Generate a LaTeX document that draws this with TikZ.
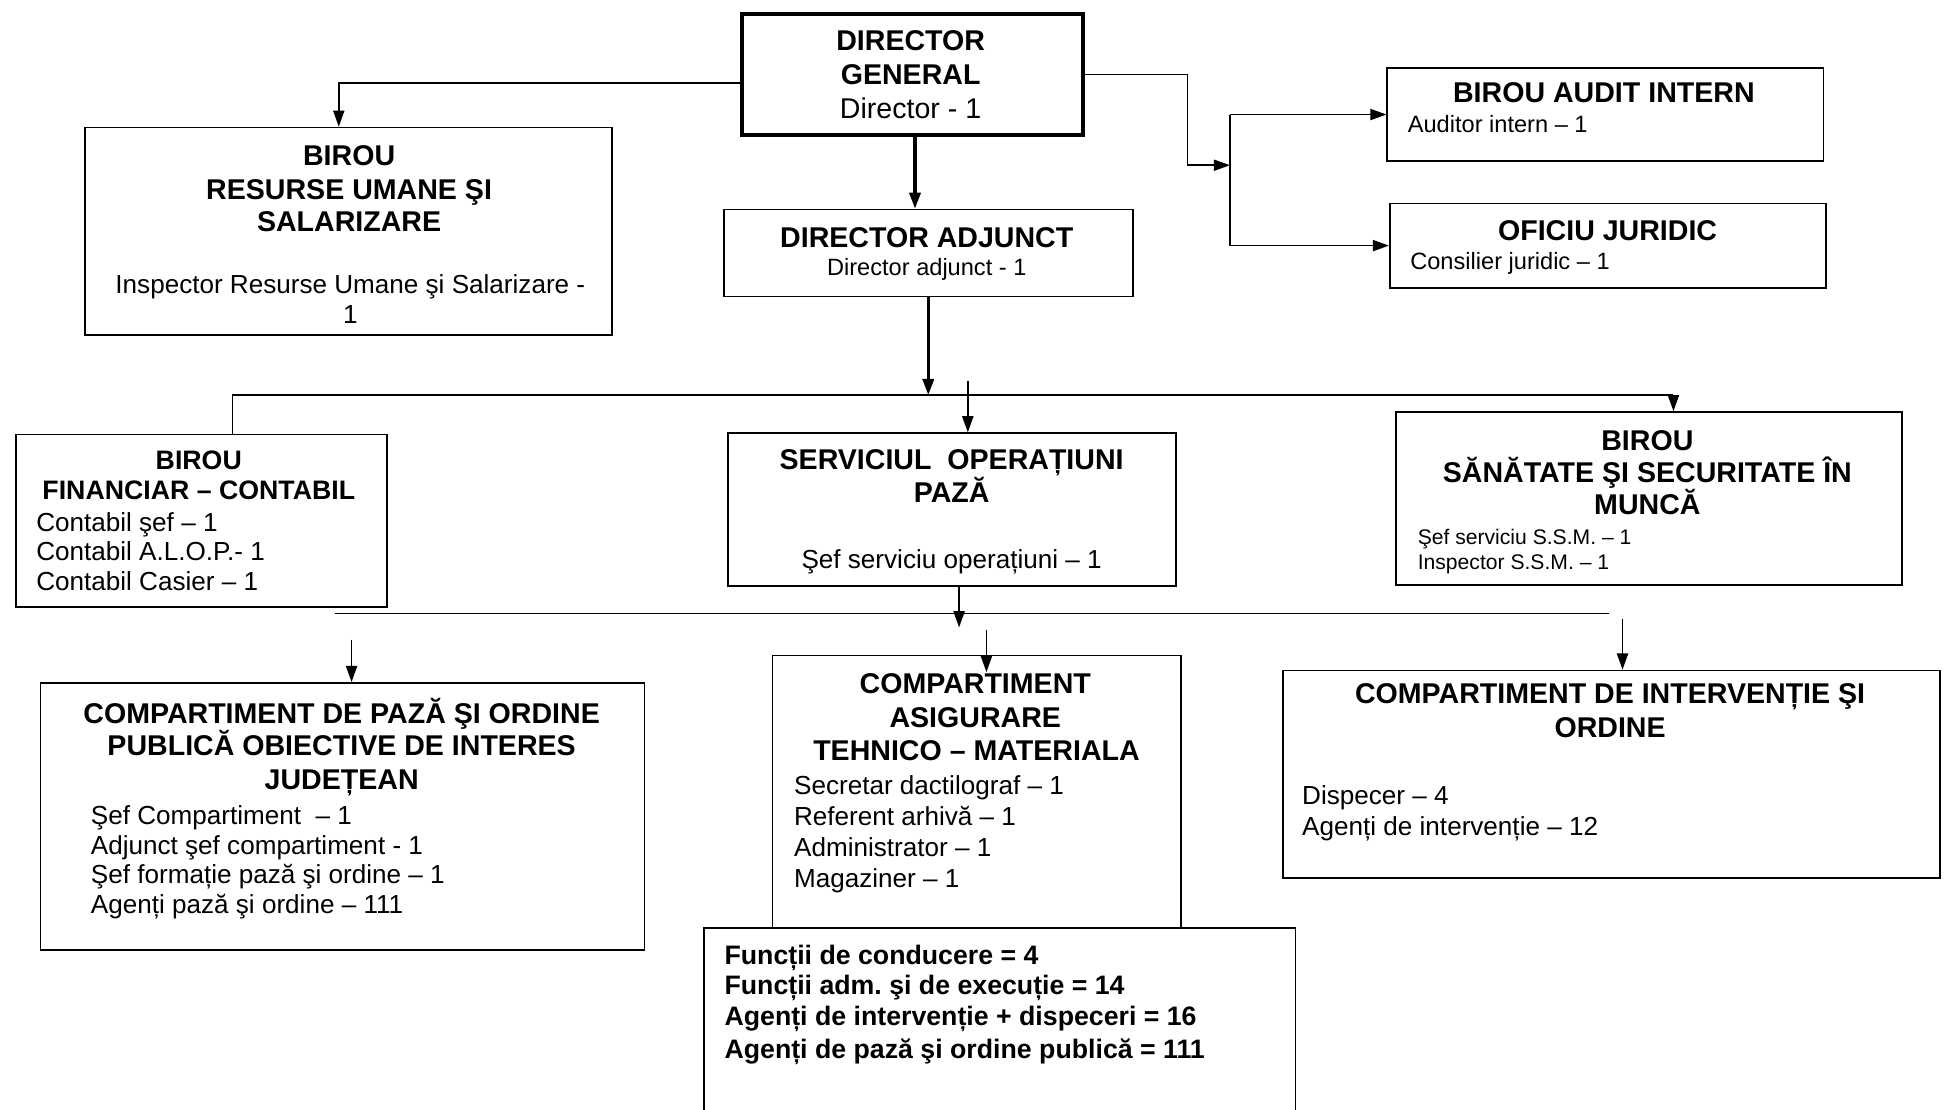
\documentclass[tikz,border=0pt]{standalone}
\usepackage{fontspec}
\setmainfont{Liberation Sans}
\usetikzlibrary{arrows.meta}
\tikzset{
box/.style={ % every department box
draw,
line width=1.4pt,
inner sep=0pt,
anchor=north west},
bossbox/.style={box, line width=3pt},
conn/.style={ % connectors with filled heads
draw,
line width=1.2pt,
-{Triangle[length=13pt,width=9pt]}},
mainconn/.style={conn, line width=2.6pt},
bar/.style={draw, line width=1.2pt},
head/.style={inner sep=0pt, text height=16.5pt, text depth=0pt,
font=\bfseries\fontsize{23}{27}\selectfont},
headsm/.style={head, text height=15.4pt, font=\bfseries\fontsize{21.5}{25}\selectfont},
txtbig/.style={inner sep=0pt, text height=16.5pt, text depth=0pt,
font=\fontsize{23}{27}\selectfont},
txt/.style={inner sep=0pt, text height=15pt, text depth=0pt,
font=\fontsize{21}{25}\selectfont},
txtsm/.style={txt, text height=13.6pt, font=\fontsize{19}{23}\selectfont},
txttiny/.style={txt, text height=12.2pt, font=\fontsize{17}{20}\selectfont},
tot/.style={headsm, anchor=west}
}
\begin{document}
\begin{tikzpicture}[x=1pt,y=-1pt]
\useasboundingbox[fill=white] (0,0) rectangle (1568,893);
% boxes
\node[bossbox, minimum width=274pt, minimum height=97pt] (dg) at (596,10) {};
\node[box, minimum width=424pt, minimum height=167pt] (ru) at (68,102) {};
\node[box, minimum width=329pt, minimum height=70pt] (da) at (582,168) {};
\node[box, minimum width=351pt, minimum height=75pt] (audit) at (1116,54) {};
\node[box, minimum width=351pt, minimum height=68pt] (jur) at (1118,163) {};
\node[box, minimum width=299pt, minimum height=139pt] (fc) at (12,349) {};
\node[box, minimum width=361pt, minimum height=123pt] (sop) at (585,348) {};
\node[box, minimum width=407pt, minimum height=139pt] (ssm) at (1123,331) {};
\node[box, minimum width=486pt, minimum height=215pt] (cpo) at (32,549) {};
\node[box, minimum width=329pt, minimum height=219pt] (cat) at (621,527) {};
\node[box, minimum width=529pt, minimum height=167pt] (cio) at (1032,539) {};
\node[box, minimum width=476pt, minimum height=160pt] (tot) at (566,746) {};

% texts
\node[head] (dg-1) at (733,32) {DIRECTOR};
\node[head] (dg-2) at (733,60) {GENERAL};
\node[txtbig] (dg-3) at (733,87) {Director - 1};

\node[head] (ru-1) at (281,125) {BIROU};
\node[head] (ru-2) at (281,152) {RESURSE UMANE ŞI};
\node[head] (ru-3) at (281,178) {SALARIZARE};
\node[txt] (ru-4) at (282,229) {Inspector Resurse Umane şi Salarizare -};
\node[txt] (ru-5) at (282,253) {1};

\node[head] (da-1) at (746,191) {DIRECTOR ADJUNCT};
\node[txtsm] (da-2) at (746,215) {Director adjunct - 1};

\node[head] (audit-1) at (1291,74) {BIROU AUDIT INTERN};
\node[txtsm, anchor=west] (audit-2) at (1133,100) {Auditor intern – 1};

\node[head] (jur-1) at (1294,185) {OFICIU JURIDIC};
\node[txtsm, anchor=west] (jur-2) at (1135,210) {Consilier juridic – 1};

\node[headsm] (fc-1) at (160,370) {BIROU};
\node[headsm] (fc-2) at (160,394) {FINANCIAR – CONTABIL};
\node[txt, anchor=west] (fc-3) at (29,420) {Contabil şef – 1};
\node[txt, anchor=west] (fc-4) at (29,444) {Contabil A.L.O.P.- 1};
\node[txt, anchor=west] (fc-5) at (29,468) {Contabil Casier – 1};

\node[head] (sop-1) at (766,370) {SERVICIUL\ \ OPERAȚIUNI};
\node[head] (sop-2) at (766,396) {PAZĂ};
\node[txt] (sop-3) at (766,450) {Şef serviciu operațiuni – 1};

\node[head] (ssm-1) at (1326,354) {BIROU};
\node[head] (ssm-2) at (1326,380) {SĂNĂTATE ŞI SECURITATE ÎN};
\node[head] (ssm-3) at (1326,406) {MUNCĂ};
\node[txttiny, anchor=west] (ssm-4) at (1141,432) {Şef serviciu S.S.M.\ – 1};
\node[txttiny, anchor=west] (ssm-5) at (1141,452) {Inspector S.S.M.\ – 1};

\node[head] (cpo-1) at (275,574) {COMPARTIMENT DE PAZĂ ŞI ORDINE};
\node[head] (cpo-2) at (275,600) {PUBLICĂ OBIECTIVE DE INTERES};
\node[head] (cpo-3) at (275,627) {JUDEȚEAN};
\node[txt, anchor=west] (cpo-4) at (73,656) {Şef Compartiment\ \ – 1};
\node[txt, anchor=west] (cpo-5) at (73,680) {Adjunct şef compartiment - 1};
\node[txt, anchor=west] (cpo-6) at (73,704) {Şef formație pază şi ordine – 1};
\node[txt, anchor=west] (cpo-7) at (73,728) {Agenți pază şi ordine – 111};

\node[head] (cat-1) at (785,550) {COMPARTIMENT};
\node[head] (cat-2) at (785,577) {ASIGURARE};
\node[head] (cat-3) at (786,604) {TEHNICO – MATERIALA};
\node[txt, anchor=west] (cat-4) at (639,632) {Secretar dactilograf – 1};
\node[txt, anchor=west] (cat-5) at (639,657) {Referent arhivă – 1};
\node[txt, anchor=west] (cat-6) at (639,682) {Administrator – 1};
\node[txt, anchor=west] (cat-7) at (639,707) {Magaziner – 1};

\node[head] (cio-1) at (1296,558) {COMPARTIMENT DE INTERVENȚIE ŞI};
\node[head] (cio-2) at (1296,585) {ORDINE};
\node[txt, anchor=west] (cio-3) at (1048,640) {Dispecer – 4};
\node[txt, anchor=west] (cio-4) at (1048,665) {Agenți de intervenție – 12};

\node[tot] (tot-1) at (583,769) {Funcții de conducere = 4};
\node[tot] (tot-2) at (583,793) {Funcții adm.\ şi de execuție = 14};
\node[tot] (tot-3) at (583,818) {Agenți de intervenție + dispeceri = 16};
\node[tot] (tot-4) at (583,844) {Agenți de pază şi ordine publică = 111};

% connectors, top level
\coordinate (fork) at (990,133);
\draw[conn] ([yshift=-7pt]dg.west) -| ([xshift=-8pt]ru.north);
\draw[mainconn] ([xshift=2pt]dg.south) -- ([xshift=2pt]dg.south |- da.north);
\draw[conn] (dg.east) -- ++(83,0) |- (fork);
\draw[bar] (fork |- audit.west) -- (fork |- jur.west);
\draw[conn] (fork |- audit.west) -- (audit.west);
\draw[conn] (fork |- jur.west) -- (jur.west);

% second level
\coordinate (busL) at (187,318);
\coordinate (busR) at (1347,318);
\coordinate (busS) at (779,307);
\draw[mainconn] (da.south) -- (da.south |- busL);
\draw[bar] (busL |- fc.north) -- (busL) -- (busR);
\draw[conn] (busR) -- (busR |- ssm.north);
\draw[conn] (busS) -- (busS |- sop.north);

% third level
\coordinate (tap) at (772,505);
\coordinate (bus2L) at (270,494);
\coordinate (bus2R) at (1295,494);
\coordinate (d1) at (283,515);
\coordinate (d2) at (794,507);
\coordinate (d3) at (1306,498);
\draw[conn] (tap |- sop.south) -- (tap);
\draw[bar] (bus2L) -- (bus2R);
\draw[conn] (d1) -- (d1 |- cpo.north);
\draw[conn] (d2) -- ([yshift=-14pt]d2 |- cat.north);
\draw[conn] (d3) -- (d3 |- cio.north);
\end{tikzpicture}
\end{document}
